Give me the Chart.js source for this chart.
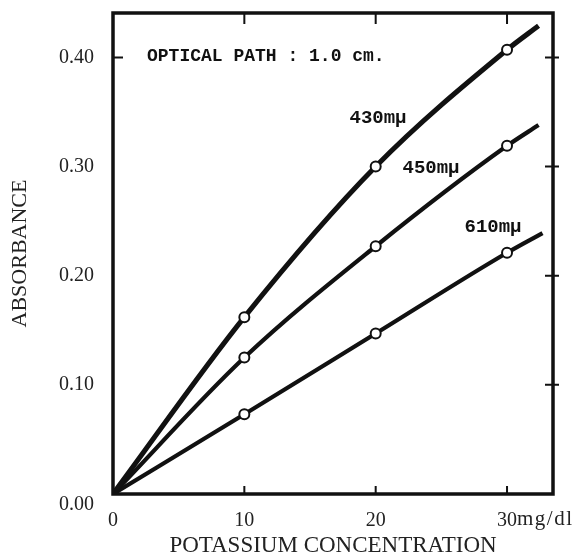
<!DOCTYPE html>
<html><head><meta charset="utf-8">
<script src="https://cdn.jsdelivr.net/npm/chart.js@4"></script>
<style>html,body{margin:0;padding:0;background:#fff;} canvas{display:block;}</style>
</head><body>
<canvas id="c" width="577" height="557"></canvas>
<script>
// ---- data ----
const concentration = [0, 10, 20, 30];
const abs430 = [0, 0.162, 0.300, 0.407];
const abs450 = [0, 0.125, 0.227, 0.319];
const abs610 = [0, 0.073, 0.147, 0.221];
// where each drawn curve stops, beyond the last measured point [x, y]
const end430 = [32.4, 0.429];
const end450 = [32.4, 0.338];
const end610 = [32.7, 0.239];
const xTicks = [0, 10, 20, 30];
const xTickLabels = ['0', '10', '20', '30'];
const yTicks = [0, 0.1, 0.2, 0.3, 0.4];
const yTickLabels = ['0.00', '0.10', '0.20', '0.30', '0.40'];
const seriesNames = ['430mμ', '450mμ', '610mμ'];
const noteText = 'OPTICAL PATH : 1.0 cm.';
const xUnit = 'mg/dl';
const xTitle = 'POTASSIUM CONCENTRATION';
const yTitle = 'ABSORBANCE';

// ---- layout / style (not data) ----
const INK = '#111';
const labelPixel = [ {x: 378, y: 118}, {x: 431, y: 168}, {x: 493, y: 227} ];
const notePixel = {x: 147, y: 56};

function series(vals, end) {
  return concentration.map((c, i) => ({x: c, y: vals[i]})).concat([{x: end[0], y: end[1]}]);
}
const radii = [0, 5, 5, 5, 0];
function ds(vals, end, w) {
  return {
    data: series(vals, end),
    borderColor: INK, borderWidth: w,
    pointRadius: radii, pointHoverRadius: radii,
    pointBackgroundColor: '#fff', pointBorderColor: INK, pointBorderWidth: 2,
    cubicInterpolationMode: 'monotone', fill: false, showLine: true
  };
}

const decor = {
  id: 'decor',
  afterDatasetsDraw(chart) {
    const {ctx, chartArea: a, scales: {x, y}} = chart;
    ctx.save();
    ctx.strokeStyle = INK;
    ctx.lineWidth = 3.5;
    ctx.strokeRect(a.left, a.top, a.right - a.left, a.bottom - a.top);
    ctx.lineWidth = 2;
    ctx.beginPath();
    xTicks.slice(1).forEach(v => {
      const px = x.getPixelForValue(v);
      ctx.moveTo(px, a.top); ctx.lineTo(px, a.top + 11);
      ctx.moveTo(px, a.bottom); ctx.lineTo(px, a.bottom - 8);
    });
    yTicks.slice(1).forEach(v => {
      const py = y.getPixelForValue(v);
      ctx.moveTo(a.right - 8, py); ctx.lineTo(a.right + 6, py);
    });
    const p40 = y.getPixelForValue(0.4);
    ctx.moveTo(a.left, p40); ctx.lineTo(a.left + 10, p40);
    ctx.stroke();

    ctx.fillStyle = INK;
    ctx.textBaseline = 'middle';
    ctx.font = 'bold 18px "Liberation Mono"';
    ctx.textAlign = 'left';
    ctx.fillText(noteText, notePixel.x, notePixel.y);
    ctx.textAlign = 'center';
    ctx.font = 'bold 19px "Liberation Mono"';
    seriesNames.forEach((n, i) => ctx.fillText(n, labelPixel[i].x, labelPixel[i].y));

    // 0.00 label sits a little below the axis line
    ctx.font = '20px "Liberation Serif"';
    ctx.fillStyle = '#222';
    ctx.textAlign = 'right';
    ctx.fillText(yTickLabels[0], a.left - 19, y.getPixelForValue(0) + 11);
    // unit after the "30" tick label
    ctx.font = '20px "Liberation Serif"';
    const p30 = x.getPixelForValue(30);
    ctx.textAlign = 'left';
    ctx.textBaseline = 'top';
    const w30 = ctx.measureText(xTickLabels[3]).width;
    ctx.font = '21px "Liberation Serif"';
    ctx.letterSpacing = '1.5px';
    ctx.fillText(xUnit, p30 + w30 / 2, x.top + 15);
    ctx.restore();
  }
};

new Chart(document.getElementById('c'), {
  type: 'scatter',
  data: { datasets: [ds(abs430, end430, 5), ds(abs450, end450, 4.2), ds(abs610, end610, 4.2)] },
  options: {
    responsive: false, animation: false, devicePixelRatio: 1,
    layout: { padding: {left: 0, top: 13, right: 24, bottom: 0} },
    plugins: { legend: {display: false}, tooltip: {enabled: false} },
    scales: {
      x: {
        type: 'linear', min: 0, max: 33.5,
        afterBuildTicks: s => { s.ticks = xTicks.map(v => ({value: v})); },
        afterFit: s => { s.height = 63; s.paddingLeft = 0; s.paddingRight = 0; },
        grid: {display: false, drawTicks: false}, border: {display: false},
        ticks: { padding: 15, color: '#222', font: {family: 'Liberation Serif', size: 20},
                 maxRotation: 0, autoSkip: false,
                 callback: v => xTickLabels[xTicks.indexOf(v)] },
        title: { display: true, text: xTitle, color: '#222',
                 font: {family: 'Liberation Serif', size: 23, lineHeight: 1}, padding: {top: 0, bottom: 0} }
      },
      y: {
        type: 'linear', min: 0, max: 0.4407,
        afterBuildTicks: s => { s.ticks = yTicks.map(v => ({value: v})); },
        afterFit: s => { s.width = 113; s.paddingTop = 0; s.paddingBottom = 0; },
        grid: {display: false, drawTicks: false}, border: {display: false},
        ticks: { padding: 19, color: '#222', font: {family: 'Liberation Serif', size: 20},
                 autoSkip: false,
                 callback: v => v === 0 ? '' : yTickLabels[yTicks.indexOf(v)] },
        title: { display: true, text: yTitle, color: '#222',
                 font: {family: 'Liberation Serif', size: 22, lineHeight: 1}, padding: {top: 9, bottom: 0} }
      }
    }
  },
  plugins: [decor]
});
</script>
</body></html>
